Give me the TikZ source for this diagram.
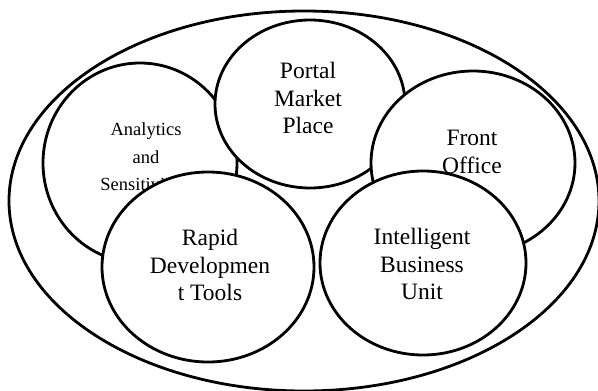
\documentclass[tikz,border=0pt]{standalone}
\usepackage{fontspec}
\setmainfont{Liberation Serif}
\usetikzlibrary{shapes.geometric}

\tikzset{
  blob/.style={ellipse, draw=black, line width=2.8pt, fill=white, inner sep=0pt},
  bigtext/.style={align=center, font=\fontsize{23.5}{27.5}\selectfont, text=black},
  smalltext/.style={align=center, font=\fontsize{18.5}{27.5}\selectfont, text=black},
}

\begin{document}
\begin{tikzpicture}[x=1pt, y=-1pt]
  \useasboundingbox (0,0) rectangle (598,391);
  \fill[white] (0,0) rectangle (598,391);

  % enclosing ellipse
  \node[blob, minimum width=590pt, minimum height=380pt] (outer) at (304,201) {};

  % component ellipses, back to front
  \node[blob, minimum width=194pt, minimum height=200pt] (analytics) at (140,163) {};
  \node[smalltext] (analyticsText) at (146,159) {Analytics\\and\\Sensitivity\hspace*{12pt}};

  \node[blob, minimum width=190pt, minimum height=168pt] (portal) at (310,104) {};
  \node[bigtext] (portalText) at (308,98) {Portal\\Market\\Place};

  \node[blob, minimum width=204pt, minimum height=184pt] (front) at (473,163) {};
  \node[bigtext] (frontText) at (472,152) {Front\\Office};

  \node[blob, minimum width=212pt, minimum height=190pt] (rapid) at (208,267) {};
  \node[bigtext] (rapidText) at (210,265) {Rapid\\Developmen\\t Tools};

  \node[blob, minimum width=206pt, minimum height=184pt] (ibu) at (423,263) {};
  \node[bigtext] (ibuText) at (422,264) {Intelligent\\Business\\Unit};
\end{tikzpicture}
\end{document}
